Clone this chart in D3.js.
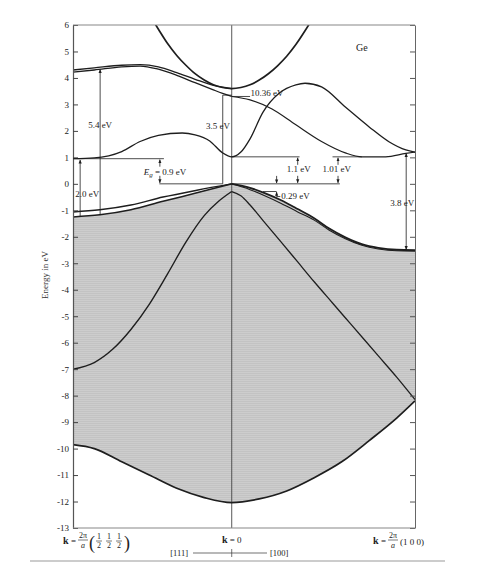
<!DOCTYPE html>
<html><head><meta charset="utf-8">
<script src="https://cdn.jsdelivr.net/npm/d3@7"></script>
<style>body{margin:0;background:#fff}svg{display:block}</style>
</head><body>
<svg id="c" width="491" height="574"></svg>
<script>
// ---------------- data (k in units of 2π/a, energy in eV) ----------------
const kL = -0.866, kG = 0, kX = 1;
const energyTicks = [6,5,4,3,2,1,0,-1,-2,-3,-4,-5,-6,-7,-8,-9,-10,-11,-12,-13];

// conduction bands
const kC1 = [-0.866,-0.75,-0.6,-0.5,-0.4,-0.27,-0.2,-0.12,-0.05,0,0.05,0.1,0.17,0.26,0.35,0.40,0.49,0.62,0.75,0.86,0.95,1.0];
const eC1 = [0.95,0.98,1.22,1.6,1.83,1.92,1.85,1.62,1.17,1.02,1.2,1.7,2.7,3.43,3.74,3.8,3.66,2.9,2.15,1.58,1.28,1.2];
const kC2 = [0,0.1,0.22,0.35,0.49,0.62,0.71,0.84,0.95,1.0];
const eC2 = [3.3,3.17,2.83,2.23,1.6,1.17,1.02,1.02,1.15,1.2];
const kC3 = [-0.45,-0.4,-0.35,-0.3,-0.25,-0.2,-0.15,-0.1,-0.05,0,0.05,0.1,0.15,0.2,0.25,0.3,0.35,0.4,0.45];
const eC3 = [6.4,5.84,5.3,4.85,4.48,4.16,3.92,3.74,3.64,3.6,3.64,3.74,3.92,4.16,4.46,4.82,5.26,5.78,6.35];
const kL1 = [-0.866,-0.75,-0.6,-0.5,-0.4,-0.3,-0.2,-0.1,0];
const eL1 = [4.3,4.38,4.48,4.5,4.42,4.2,3.95,3.72,3.6];
const kL2 = [-0.866,-0.75,-0.6,-0.5,-0.4,-0.3,-0.2,-0.1,-0.05,0];
const eL2 = [4.22,4.3,4.42,4.45,4.33,4.1,3.82,3.55,3.42,3.3];

// valence bands
const kV1 = [-0.866,-0.72,-0.55,-0.375,-0.19,0];
const eV1 = [-1.06,-0.98,-0.8,-0.5,-0.24,0];
const kV2 = [-0.866,-0.72,-0.55,-0.375,-0.19,0];
const eV2 = [-1.25,-1.17,-0.98,-0.66,-0.34,0];
const kV3 = [0,0.1,0.18,0.27,0.36,0.45,0.53,0.62,0.71,0.8,0.9,1.0];
const eV3 = [0,-0.15,-0.35,-0.62,-0.95,-1.3,-1.68,-2.02,-2.28,-2.42,-2.49,-2.5];
const kV4 = [0,0.1,0.18,0.27,0.36,0.45,0.53,0.62,0.71,0.8,0.9,1.0];
const eV4 = [0,-0.22,-0.45,-0.74,-1.06,-1.37,-1.74,-2.07,-2.32,-2.46,-2.53,-2.54];
const kSL = [-0.866,-0.75,-0.65,-0.55,-0.45,-0.35,-0.25,-0.15,-0.07,0];
const eSL = [-7.0,-6.75,-6.25,-5.5,-4.55,-3.4,-2.2,-1.2,-0.65,-0.29];
const kSR = [0,0.05,0.1,0.17,0.27,0.36,0.45,0.55,0.65,0.8,0.9,1.0];
const eSR = [-0.29,-0.45,-0.8,-1.38,-2.2,-2.95,-3.7,-4.5,-5.3,-6.5,-7.3,-8.15];
const kB  = [-0.866,-0.75,-0.6,-0.45,-0.3,-0.15,0,0.15,0.3,0.45,0.6,0.75,0.9,1.0];
const eB  = [-9.85,-10.0,-10.5,-11.0,-11.5,-11.85,-12.04,-11.9,-11.6,-11.1,-10.5,-9.7,-8.85,-8.2];

// ---------------- drawing ----------------
const svg = d3.select("#c");
const FONT = "'Liberation Serif','DejaVu Serif',serif";
const x = d3.scaleLinear().domain([kL, kX]).range([73, 415]);
const y = d3.scaleLinear().domain([6, -13]).range([25, 528]);
const ink = "#1e1e1e";

const defs = svg.append("defs");
const pat = defs.append("pattern").attr("id","hatch").attr("width",4).attr("height",2).attr("patternUnits","userSpaceOnUse");
pat.append("rect").attr("width",4).attr("height",2).attr("fill","#cdcdcd");
pat.append("rect").attr("y",1).attr("width",4).attr("height",1).attr("fill","#c3c3c3");
defs.append("clipPath").attr("id","plot").append("rect")
  .attr("x",x(kL)).attr("y",y(6)).attr("width",x(kX)-x(kL)).attr("height",y(-13)-y(6));
const mk = defs.append("marker").attr("id","arr").attr("viewBox","0 0 10 10").attr("refX",9).attr("refY",5)
  .attr("markerWidth",5).attr("markerHeight",5).attr("orient","auto-start-reverse");
mk.append("path").attr("d","M0,1 L10,5 L0,9 Z").attr("fill",ink);

const pts = (ks, es) => ks.map((k,i)=>[k, es[i]]);
const line = d3.line().x(d=>x(d[0])).y(d=>y(d[1])).curve(d3.curveMonotoneX);

const plot = svg.append("g").attr("clip-path","url(#plot)");

// shaded valence region
const areaD = line(pts(kV2,eV2)) + line(pts(kV3,eV3)).replace(/^M/,"L")
  + line(pts(kB,eB).reverse()).replace(/^M/,"L") + "Z";
plot.append("path").attr("d",areaD).attr("fill","url(#hatch)");

// k = 0 line
plot.append("line").attr("x1",x(kG)).attr("x2",x(kG)).attr("y1",y(6)).attr("y2",y(-13))
  .attr("stroke","#444").attr("stroke-width",0.9);

const bands = [
  [kC1,eC1,1.3],[kC2,eC2,1.2],[kC3,eC3,1.7],[kL1,eL1,1.3],[kL2,eL2,1.3],
  [kV1,eV1,1.5],[kV2,eV2,1.5],[kV3,eV3,1.8],[kV4,eV4,1.1],[kSL,eSL,1.4],[kSR,eSR,1.3],[kB,eB,1.7]
];
plot.selectAll("path.band").data(bands).join("path").attr("class","band")
  .attr("d",d=>line(pts(d[0],d[1]))).attr("fill","none").attr("stroke",ink)
  .attr("stroke-width",d=>d[2]);

// axes
const axL = d3.axisLeft(y).tickValues(energyTicks).tickFormat(d=>String(d))
  .tickSizeInner(-5).tickSizeOuter(0).tickPadding(4);
const gL = svg.append("g").attr("transform",`translate(${x(kL)},0)`).call(axL);
gL.select(".domain").attr("stroke","#555").attr("stroke-width",1.2);
gL.selectAll(".tick line").attr("stroke","#444");
gL.selectAll("text").attr("font-family",FONT).attr("font-size",9).attr("fill","#222");
const axR = d3.axisRight(y).tickValues(energyTicks).tickFormat("").tickSizeInner(-5).tickSizeOuter(0);
const gR = svg.append("g").attr("transform",`translate(${x(kX)},0)`).call(axR);
gR.select(".domain").attr("stroke","#666");
gR.selectAll(".tick line").attr("stroke","#555");
svg.append("line").attr("x1",x(kL)).attr("x2",x(kX)).attr("y1",y(6)).attr("y2",y(6)).attr("stroke","#888").attr("stroke-width",1.2);
svg.append("line").attr("x1",x(kL)).attr("x2",x(kX)).attr("y1",y(-13)).attr("y2",y(-13)).attr("stroke","#888").attr("stroke-width",1.2);

// y label
svg.append("text").attr("transform","translate(48,275) rotate(-90)").attr("text-anchor","middle")
  .attr("font-family",FONT).attr("font-size",9).attr("fill","#333").text("Energy in eV");

// annotation helpers
const ann = svg.append("g").attr("stroke",ink).attr("stroke-width",0.8).attr("fill","none");
function vline(k,e0,e1,start,end){
  const l = ann.append("line").attr("x1",x(k)).attr("x2",x(k)).attr("y1",y(e0)).attr("y2",y(e1));
  if(start) l.attr("marker-start","url(#arr)");
  if(end) l.attr("marker-end","url(#arr)");
}
function hline(k0,k1,e){ ann.append("line").attr("x1",x(k0)).attr("x2",x(k1)).attr("y1",y(e)).attr("y2",y(e)); }
function label(px,py,txt,anchor,size){
  return svg.append("text").attr("x",px).attr("y",py).attr("text-anchor",anchor||"start")
    .attr("font-family",FONT).attr("font-size",size||9).attr("fill","#222").text(txt);
}
function gapArrows(k,eTop,eBot){
  ann.append("line").attr("x1",x(k)).attr("x2",x(k)).attr("y1",y(eTop)+8).attr("y2",y(eTop)+1).attr("marker-end","url(#arr)");
  ann.append("line").attr("x1",x(k)).attr("x2",x(k)).attr("y1",y(eBot)-8).attr("y2",y(eBot)-1).attr("marker-end","url(#arr)");
}

// 5.4 eV
vline(-0.718,-1.18,4.32,false,true);
label(x(-0.718),y(2.1),"5.4 eV","middle");
// 2.0 eV
vline(-0.827,-1.22,0.9,false,true);
label(x(-0.854),y(-0.5),"2.0 eV","start");
// Eg
hline(kL,-0.37,0.95);
hline(-0.395,-0.049,0);
gapArrows(-0.392,0.95,0);
const eg = label(x(-0.48),y(0.35),"","start");
eg.append("tspan").attr("font-style","italic").text("E");
eg.append("tspan").attr("font-size",7).attr("dy",2).attr("font-style","italic").text("g");
eg.append("tspan").attr("dy",-2).text(" = 0.9 eV");
// 3.5 eV
vline(-0.049,0,3.35,false,false);
hline(-0.049,0,3.35);
label(x(-0.075),y(2.08),"3.5 eV","middle");
// 10.36 eV
hline(0,0.1,3.3);
label(x(0.102),y(3.32),"10.36 eV","start");
// 1.1 eV
hline(0,0.37,1.02);
hline(0,0.59,0);
gapArrows(0.36,1.02,0);
label(x(0.3),y(0.45),"1.1 eV","start");
// 1.01 eV
hline(0.55,0.71,1.02);
gapArrows(0.58,1.02,0);
label(x(0.495),y(0.43),"1.01 eV","start");
// 0.29 eV
ann.append("line").attr("x1",x(0.245)).attr("x2",x(0.245)).attr("y1",y(0.3)).attr("y2",y(0.03)).attr("marker-end","url(#arr)");
hline(0.17,0.245,-0.29);
ann.append("line").attr("x1",x(0.245)).attr("x2",x(0.245)).attr("y1",y(-0.48)).attr("y2",y(-0.31)).attr("marker-end","url(#arr)");
hline(0.245,0.265,-0.48);
label(x(0.27),y(-0.58),"0.29 eV","start");
// 3.8 eV
vline(0.952,-2.48,1.15,true,true);
label(x(0.93),y(-0.85),"3.8 eV","middle");
// Ge
label(x(0.71),y(5.0),"Ge","middle",10);

// ---------- k-axis labels ----------
const bl = svg.append("g").attr("font-family",FONT).attr("fill","#222");
function kEq(px,py){
  bl.append("text").attr("x",px).attr("y",py).attr("font-size",10).attr("font-weight","bold").text("k");
  bl.append("text").attr("x",px+8).attr("y",py).attr("font-size",9).text("=");
  bl.append("text").attr("x",px+20).attr("y",py-6).attr("font-size",8).attr("text-anchor","middle").text("2π");
  bl.append("line").attr("x1",px+15).attr("x2",px+25).attr("y1",py-4).attr("y2",py-4).attr("stroke","#222").attr("stroke-width",0.6);
  bl.append("text").attr("x",px+20).attr("y",py+4).attr("font-size",8).attr("font-style","italic").attr("text-anchor","middle").text("a");
}
kEq(63,544);
bl.append("text").attr("x",89).attr("y",549).attr("font-size",18).text("(");
[99,109,119].forEach(cx=>{
  bl.append("text").attr("x",cx).attr("y",539).attr("font-size",8).attr("text-anchor","middle").text("1");
  bl.append("line").attr("x1",cx-3).attr("x2",cx+3).attr("y1",541).attr("y2",541).attr("stroke","#222").attr("stroke-width",0.6);
  bl.append("text").attr("x",cx).attr("y",548).attr("font-size",8).attr("text-anchor","middle").text("2");
});
bl.append("text").attr("x",124).attr("y",549).attr("font-size",18).text(")");
kEq(373,544);
bl.append("text").attr("x",400).attr("y",545).attr("font-size",9).text("(1 0 0)");
const k0 = bl.append("text").attr("x",x(kG)).attr("y",543).attr("font-size",9).attr("text-anchor","middle");
k0.append("tspan").attr("font-weight","bold").attr("font-size",10).text("k");
k0.append("tspan").text(" = 0");
bl.append("text").attr("x",188).attr("y",556).attr("font-size",8.5).attr("text-anchor","end").text("[111]");
bl.append("text").attr("x",270).attr("y",556).attr("font-size",8.5).text("[100]");
bl.append("line").attr("x1",193).attr("x2",267).attr("y1",553).attr("y2",553).attr("stroke","#333").attr("stroke-width",0.7);
bl.append("line").attr("x1",x(kG)).attr("x2",x(kG)).attr("y1",549).attr("y2",557).attr("stroke","#333").attr("stroke-width",0.7);
svg.append("line").attr("x1",30).attr("x2",445).attr("y1",561).attr("y2",561).attr("stroke","#999").attr("stroke-width",1);
</script>
</body></html>
